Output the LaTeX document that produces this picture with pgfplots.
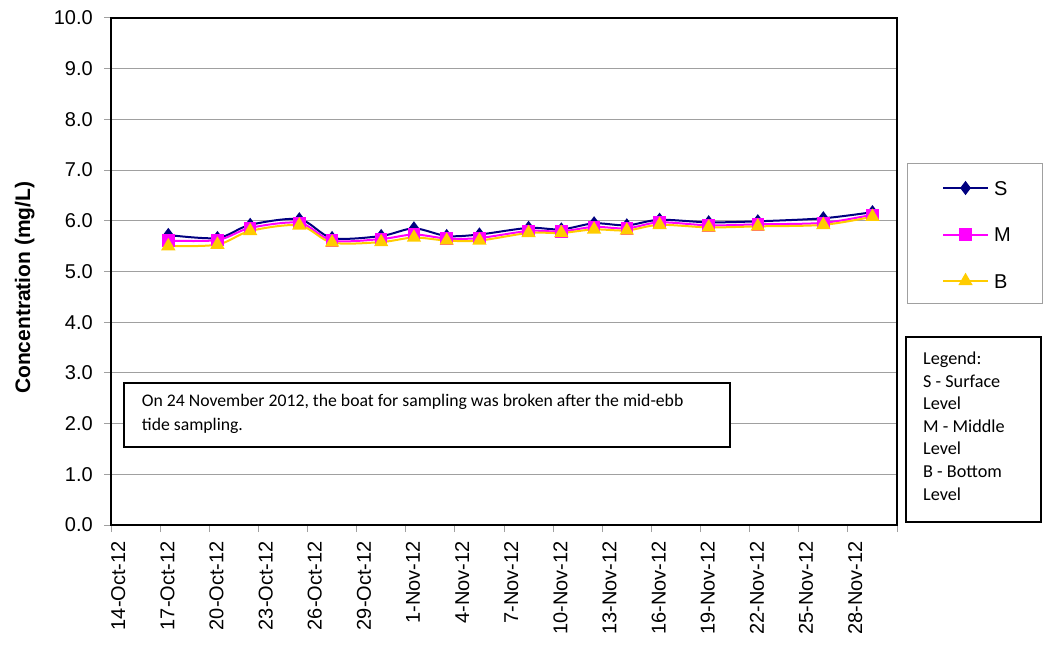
\documentclass[border=0pt]{standalone}
\usepackage{pgfplots}
\pgfplotsset{compat=1.18}
\usepackage{fontspec}
\setmainfont{Liberation Sans}
\newfontfamily\calibri{Carlito}
\definecolor{sNavy}{RGB}{0,0,128}
\definecolor{mMag}{RGB}{255,0,255}
\definecolor{bGold}{RGB}{255,204,0}
\definecolor{gridgray}{RGB}{160,160,160}

\pgfplotstableread{
t    S     M     B
3.5  5.72  5.61  5.50
6.5  5.66  5.62  5.53
8.5  5.92  5.86  5.80
11.5 6.03  5.96  5.91
13.5 5.66  5.61  5.57
16.5 5.70  5.64  5.58
18.5 5.85  5.73  5.67
20.5 5.70  5.65  5.61
22.5 5.73  5.66  5.61
25.5 5.86  5.80  5.76
27.5 5.83  5.79  5.76
29.5 5.95  5.88  5.83
31.5 5.91  5.85  5.81
33.5 6.02  5.97  5.92
36.5 5.97  5.91  5.87
39.5 5.99  5.93  5.89
43.5 6.05  5.96  5.92
46.5 6.17  6.12  6.08
}\datatable

\begin{document}
\begin{tikzpicture}[x=1pt,y=1pt]
\useasboundingbox (0,0) rectangle (1046,667);
\begin{axis}[
  at={(111pt,142pt)}, anchor=south west,
  scale only axis, width=786pt, height=507pt,
  xmin=0, xmax=48, ymin=0, ymax=10,
  xtick={0,3,...,48},
  xticklabels={14-Oct-12,17-Oct-12,20-Oct-12,23-Oct-12,26-Oct-12,29-Oct-12,1-Nov-12,4-Nov-12,7-Nov-12,10-Nov-12,13-Nov-12,16-Nov-12,19-Nov-12,22-Nov-12,25-Nov-12,28-Nov-12,{}},
  ytick={0,1,...,10},
  yticklabels={0.0,1.0,2.0,3.0,4.0,5.0,6.0,7.0,8.0,9.0,10.0},
  tick label style={font=\fontsize{20}{24}\selectfont},
  xticklabel style={rotate=90, anchor=north east, inner sep=0pt},
  yticklabel style={anchor=east, inner sep=0pt},
  xticklabel shift=9pt,
  yticklabel shift=11pt,
  tick align=outside,
  major tick length=7pt,
  tick style={gridgray, line width=1pt},
  xtick pos=bottom, ytick pos=left,
  ymajorgrids, grid style={gridgray, line width=1pt},
  axis line style={black, line width=1.6pt},
  ylabel={Concentration (mg/L)},
  ylabel style={font=\bfseries\fontsize{21}{25}\selectfont, at={(axis description cs:-0.103,0.468)}, anchor=base, inner sep=0pt},
  legend style={draw=none, fill=none, at={(axis description cs:1.0573,0.6785)}, anchor=north west, inner sep=0pt, outer sep=0pt, row sep=32.5pt, font=\fontsize{20}{24}\selectfont, nodes={inner sep=0pt, text height=14pt, text depth=0pt}, /tikz/every odd column/.append style={column sep=5pt}},
  legend image code/.code={\draw[#1, mark repeat=2, mark phase=2] plot coordinates {(0pt,0pt) (22.5pt,0pt) (45pt,0pt)};},
  legend cell align=left,
  clip=false,
]
\addplot[sNavy, line width=2pt, smooth, mark=diamond*, mark size=5.5pt, mark options={solid, fill=sNavy}] table[x=t, y=S] {\datatable};
\addlegendentry{S}
\addplot[mMag, line width=2pt, smooth, mark=square*, mark size=5.2pt, mark options={solid, fill=mMag}] table[x=t, y=M] {\datatable};
\addlegendentry{M}
\addplot[bGold, line width=2pt, smooth, mark=triangle*, mark size=6.3pt, mark options={solid, fill=bGold}] table[x=t, y=B] {\datatable};
\addlegendentry{B}
\end{axis}
% legend frame
\draw[gridgray, line width=1pt] (907,363) rectangle (1042,503);
% text legend box
\draw[black, line width=1.6pt] (906,145) rectangle (1041,330);
\begin{scope}[every node/.style={anchor=base west, inner sep=0pt, font=\calibri\fontsize{18.2}{21}\selectfont}]
\node at (923,302) {Legend:};
\node at (923,279.5) {S - Surface};
\node at (923,257) {Level};
\node at (923,234.5) {M - Middle};
\node at (923,212) {Level};
\node at (923,189.5) {B - Bottom};
\node at (923,167) {Level};
\end{scope}
% annotation box
\draw[black, line width=1.6pt, fill=white] (124,220) rectangle (730,284);
\begin{scope}[every node/.style={anchor=base west, inner sep=0pt, font=\calibri\fontsize{17.7}{21}\selectfont}]
\node at (141.7,260) {On 24 November 2012, the boat for sampling was broken after the mid-ebb};
\node at (141.7,236.3) {tide sampling.};
\end{scope}
\end{tikzpicture}
\end{document}
